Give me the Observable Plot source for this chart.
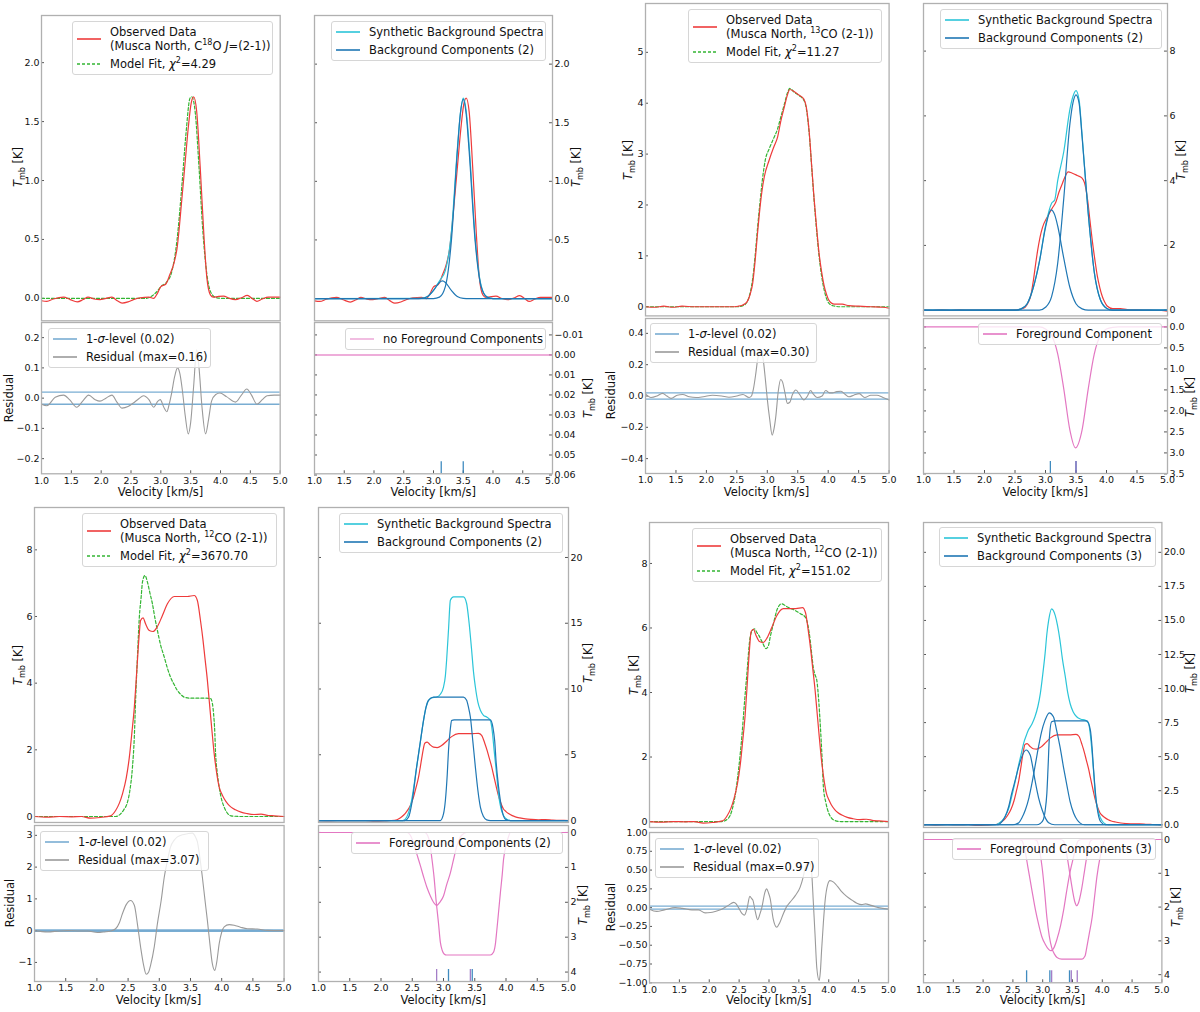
<!DOCTYPE html>
<html>
<head>
<meta charset="utf-8">
<script src="https://cdn.jsdelivr.net/npm/d3@7"></script>
<script src="https://cdn.jsdelivr.net/npm/@observablehq/plot@0.6"></script>
<style>
  body { margin: 0; background: #fff; font-family: "DejaVu Sans", sans-serif; }
  #fig { position: relative; width: 1200px; height: 1012px; overflow: hidden; }
  .lab { position: absolute; font-size: 11.5px; white-space: nowrap; color: #111; }
  .leg { position: absolute; background: rgba(255,255,255,0.8); border: 1px solid #d6d6d6; border-radius: 3px;
         font-size: 11.5px; line-height: 14px; padding: 3px 4px; box-sizing: border-box; color: #111; white-space: nowrap; }
  .row { display: flex; align-items: center; margin-bottom: 4px; }
  .row:last-child { margin-bottom: 0; }
  .row svg { flex: none; margin-right: 9px; }
  sub, sup { font-size: 70%; line-height: 0; }
</style>
</head>
<body>
<div id="fig"></div>
<script>
// ---- values ----
const vTicks = [1, 1.5, 2, 2.5, 3, 3.5, 4, 4.5, 5];

const chiSq = [4.29, 11.27, 3670.70, 151.02];
const residMax = [0.16, 0.30, 3.07, 0.97];
const sigmaLevel = 0.02;
const nBackground = [2, 2, 2, 3];
const nForeground = [0, 1, 2, 3];

// C18O (top left)
const obsC18O = [[1.0,-0.02],[1.09,-0.025],[1.2,-0.005],[1.37,0.01],[1.48,-0.01],[1.6,-0.03],[1.7,-0.01],[1.78,0.01],[1.88,-0.005],[1.98,-0.01],[2.08,0.0],[2.18,0.01],[2.27,-0.02],[2.35,-0.04],[2.45,-0.03],[2.54,-0.01],[2.65,0.005],[2.8,0.01],[2.88,0.0],[2.94,0.04],[3.0,0.1],[3.08,0.12],[3.15,0.2],[3.22,0.3],[3.27,0.42],[3.35,0.83],[3.41,1.17],[3.46,1.45],[3.51,1.66],[3.55,1.71],[3.6,1.59],[3.66,1.11],[3.72,0.55],[3.77,0.18],[3.83,0.03],[3.88,0.01],[3.95,0.015],[4.05,0.02],[4.15,0.0],[4.25,-0.01],[4.35,0.005],[4.45,0.025],[4.53,0.0],[4.61,-0.025],[4.7,-0.005],[4.8,0.01],[4.9,0.01],[5.0,0.01]];
const fitC18O = [[1,0],[2.75,0],[2.85,0.02],[2.92,0.05],[3.0,0.1],[3.1,0.14],[3.18,0.22],[3.27,0.49],[3.35,0.94],[3.42,1.39],[3.49,1.7],[3.52,1.71],[3.58,1.56],[3.64,1.11],[3.7,0.6],[3.77,0.21],[3.85,0.04],[3.94,0.005],[4.05,0],[5,0]];
const resC18O = [[1.0,-0.02],[1.09,-0.025],[1.23,0.003],[1.37,0.01],[1.47,-0.005],[1.59,-0.03],[1.69,-0.01],[1.79,0.01],[1.9,-0.005],[1.98,-0.01],[2.08,0.0],[2.18,0.01],[2.27,-0.015],[2.35,-0.033],[2.45,-0.028],[2.54,-0.016],[2.63,-0.002],[2.71,0.008],[2.8,-0.005],[2.88,-0.03],[2.95,-0.01],[2.99,-0.005],[3.05,-0.03],[3.1,-0.045],[3.14,-0.02],[3.18,0.016],[3.23,0.07],[3.28,0.1],[3.32,0.08],[3.36,0.027],[3.41,-0.06],[3.46,-0.118],[3.5,-0.08],[3.55,0.04],[3.6,0.16],[3.64,0.1],[3.69,-0.03],[3.75,-0.118],[3.8,-0.07],[3.85,-0.01],[3.92,0.012],[3.99,0.017],[4.1,0.005],[4.25,-0.013],[4.35,0.01],[4.44,0.03],[4.52,0.01],[4.61,-0.02],[4.7,-0.005],[4.78,0.008],[4.9,0.01],[5.0,0.01]];
const synthC18O = [[1,0],[2.8,0.002],[2.9,0.017],[3.0,0.07],[3.1,0.15],[3.2,0.24],[3.3,0.56],[3.4,1.27],[3.45,1.57],[3.5,1.71],[3.55,1.6],[3.6,1.3],[3.7,0.52],[3.8,0.11],[3.9,0.012],[4.0,0],[5,0]];
const bgC18O_1 = [[1,0],[2.7,0],[2.8,0.002],[2.9,0.017],[3.0,0.069],[3.1,0.137],[3.15,0.15],[3.2,0.137],[3.3,0.069],[3.4,0.017],[3.5,0.002],[3.6,0],[5,0]];
const bgC18O_2 = [[1,0],[3.0,0],[3.1,0.012],[3.2,0.104],[3.3,0.49],[3.4,1.25],[3.45,1.57],[3.5,1.7],[3.55,1.57],[3.6,1.25],[3.7,0.49],[3.8,0.104],[3.9,0.012],[4.0,0],[5,0]];
const bgCentresC18O = [3.13, 3.5];
const fgCentresC18O = [];

// 13CO (top right)
const obs13CO = [[1.0,0.0],[1.15,-0.01],[1.3,0.01],[1.45,-0.01],[1.6,0.01],[1.8,0.0],[2.0,0.0],[2.2,0.0],[2.4,0.0],[2.52,0.01],[2.59,0.03],[2.67,0.1],[2.72,0.25],[2.76,0.46],[2.8,0.9],[2.84,1.45],[2.87,1.83],[2.91,2.25],[2.95,2.55],[3.03,2.88],[3.11,3.15],[3.17,3.34],[3.22,3.64],[3.28,3.93],[3.33,4.16],[3.37,4.27],[3.44,4.23],[3.52,4.16],[3.6,4.08],[3.64,3.93],[3.69,3.41],[3.73,2.75],[3.77,2.1],[3.81,1.55],[3.85,1.05],[3.89,0.7],[3.93,0.43],[3.97,0.25],[4.01,0.13],[4.1,0.05],[4.23,0.05],[4.34,0.02],[4.5,0.01],[4.7,0.0],[4.9,-0.01],[5.0,-0.03]];
const fit13CO = [[1,0],[2.5,0],[2.6,0.02],[2.67,0.1],[2.72,0.28],[2.76,0.55],[2.8,1.0],[2.84,1.55],[2.88,2.05],[2.92,2.5],[2.97,2.9],[3.03,3.1],[3.1,3.3],[3.17,3.5],[3.22,3.72],[3.28,3.98],[3.33,4.2],[3.37,4.29],[3.44,4.22],[3.52,4.15],[3.6,4.06],[3.64,3.9],[3.69,3.38],[3.73,2.72],[3.77,2.07],[3.81,1.5],[3.85,1.0],[3.89,0.62],[3.93,0.35],[3.97,0.17],[4.01,0.07],[4.08,0.02],[4.2,0],[5,0]];
const res13CO = [[1.0,0.013],[1.09,-0.01],[1.19,0.0],[1.28,0.017],[1.35,0.0],[1.42,-0.015],[1.52,0.005],[1.61,0.01],[1.72,-0.005],[1.83,-0.01],[1.95,-0.005],[2.1,0.005],[2.25,0.0],[2.37,-0.008],[2.5,0.0],[2.6,0.01],[2.7,-0.01],[2.74,0.0],[2.77,0.04],[2.81,0.14],[2.84,0.23],[2.89,0.29],[2.93,0.24],[2.97,0.1],[3.0,-0.02],[3.04,-0.15],[3.08,-0.25],[3.11,-0.21],[3.14,-0.13],[3.18,0.03],[3.22,0.105],[3.25,0.09],[3.29,0.02],[3.33,-0.047],[3.37,-0.04],[3.41,0.006],[3.47,0.038],[3.53,0.01],[3.6,-0.025],[3.66,0.0],[3.71,0.035],[3.76,0.01],[3.82,-0.01],[3.9,0.0],[3.96,0.035],[4.02,0.02],[4.07,0.02],[4.14,0.028],[4.21,0.03],[4.28,0.01],[4.34,-0.005],[4.42,0.005],[4.51,0.015],[4.6,-0.01],[4.7,0.005],[4.8,0.005],[4.9,-0.01],[5.0,-0.025]];
const synth13CO = [[1,0],[2.5,0],[2.6,0.04],[2.7,0.2],[2.8,0.7],[2.9,1.5],[3.0,2.6],[3.1,3.3],[3.15,3.4],[3.2,4.0],[3.3,4.9],[3.4,6.2],[3.45,6.6],[3.5,6.78],[3.55,6.5],[3.6,5.4],[3.7,3.0],[3.8,1.17],[3.9,0.32],[4.0,0.06],[4.1,0],[5,0]];
const bg13CO_1 = [[1,0],[2.5,0],[2.6,0.04],[2.7,0.2],[2.8,0.7],[2.9,1.5],[3.0,2.55],[3.09,3.1],[3.15,2.95],[3.2,2.6],[3.3,1.6],[3.4,0.7],[3.5,0.2],[3.6,0.04],[3.7,0],[5,0]];
const bg13CO_2 = [[1,0],[2.9,0],[3.0,0.09],[3.1,0.42],[3.2,1.45],[3.3,3.46],[3.4,5.75],[3.45,6.4],[3.5,6.65],[3.55,6.4],[3.6,5.35],[3.7,3.0],[3.8,1.17],[3.9,0.32],[4.0,0.06],[4.1,0],[5,0]];
const fg13CO_1 = [[1,0],[2.9,0],[3.0,0.05],[3.1,0.2],[3.2,0.64],[3.3,1.48],[3.4,2.46],[3.49,2.88],[3.6,2.45],[3.7,1.48],[3.8,0.64],[3.9,0.2],[4.0,0.05],[4.1,0.01],[4.2,0],[5,0]];
const bgCentres13CO = [3.08, 3.5];
const fgCentres13CO = [3.5];

// 12CO observed spectrum (bottom row, both fits)
const obs12CO = [[1.0,0.0],[1.2,-0.02],[1.4,0.0],[1.6,-0.01],[1.75,0.0],[1.9,-0.05],[2.05,-0.03],[2.22,0.02],[2.3,0.18],[2.36,0.4],[2.41,0.68],[2.47,1.15],[2.52,1.78],[2.56,2.5],[2.6,3.28],[2.63,4.1],[2.66,4.98],[2.68,5.5],[2.7,5.88],[2.74,5.96],[2.78,5.78],[2.84,5.58],[2.9,5.55],[2.97,5.7],[3.05,6.03],[3.13,6.38],[3.24,6.6],[3.34,6.6],[3.45,6.6],[3.56,6.63],[3.61,6.48],[3.66,5.88],[3.7,5.3],[3.73,4.78],[3.77,4.1],[3.8,3.48],[3.84,2.65],[3.88,1.88],[3.92,1.3],[3.96,0.88],[4.0,0.68],[4.04,0.53],[4.1,0.37],[4.15,0.28],[4.22,0.2],[4.31,0.13],[4.4,0.09],[4.52,0.06],[4.63,0.07],[4.75,0.03],[4.84,0.02],[5.0,0.0]];

// 12CO, 2+2 components (bottom left)
const fit12CO_a = [[1,0],[2.3,0],[2.38,0.08],[2.43,0.2],[2.49,0.43],[2.53,0.8],[2.57,1.48],[2.6,2.4],[2.62,3.48],[2.65,4.8],[2.68,5.98],[2.71,6.6],[2.73,7.03],[2.77,7.23],[2.81,7.03],[2.85,6.7],[2.89,6.38],[2.93,5.95],[2.97,5.58],[3.02,5.15],[3.08,4.78],[3.13,4.45],[3.18,4.18],[3.24,3.95],[3.29,3.78],[3.35,3.65],[3.4,3.58],[3.5,3.55],[3.6,3.55],[3.72,3.55],[3.82,3.54],[3.85,3.4],[3.87,3.08],[3.89,2.5],[3.9,1.98],[3.93,1.3],[3.96,0.88],[4.0,0.5],[4.04,0.28],[4.1,0.08],[4.15,0.02],[4.3,0],[5,0]];
const res12CO_a = [[1.0,0.0],[1.21,-0.04],[1.4,-0.01],[1.53,0.0],[1.7,-0.01],[1.85,-0.01],[2.01,-0.06],[2.12,-0.04],[2.22,-0.01],[2.3,0.06],[2.36,0.25],[2.41,0.54],[2.47,0.82],[2.54,0.95],[2.6,0.8],[2.65,0.2],[2.7,-0.51],[2.75,-1.1],[2.79,-1.37],[2.83,-1.3],[2.86,-1.09],[2.92,-0.5],[2.97,0.22],[3.03,0.95],[3.08,1.69],[3.13,2.2],[3.18,2.63],[3.24,2.85],[3.29,2.95],[3.37,3.02],[3.45,3.05],[3.53,3.07],[3.58,2.95],[3.61,2.8],[3.65,2.3],[3.69,1.69],[3.73,1.0],[3.77,0.33],[3.81,-0.4],[3.85,-1.04],[3.89,-1.25],[3.92,-1.0],[3.96,-0.41],[4.0,-0.05],[4.04,0.12],[4.12,0.19],[4.2,0.17],[4.3,0.11],[4.41,0.06],[4.57,0.05],[4.73,0.01],[5.0,0.0]];
const synth12CO_a = [[1,0],[2.35,0],[2.41,0.25],[2.48,1.3],[2.57,4.06],[2.63,6.0],[2.68,7.6],[2.72,8.6],[2.76,9.14],[2.82,9.35],[2.89,9.39],[2.95,9.6],[3.0,10.15],[3.03,11.0],[3.05,12.2],[3.08,14.5],[3.11,16.75],[3.16,17.0],[3.32,17.0],[3.37,16.5],[3.41,15.0],[3.45,12.97],[3.48,11.3],[3.51,10.15],[3.55,9.0],[3.59,8.38],[3.64,8.0],[3.69,7.87],[3.75,7.6],[3.78,6.8],[3.81,5.33],[3.85,3.5],[3.88,2.03],[3.92,0.9],[3.96,0.38],[4.02,0.08],[4.07,0],[5,0]];
const bg12CO_a1 = [[1,0],[2.38,0],[2.44,0.25],[2.5,1.5],[2.57,4.06],[2.63,6.0],[2.68,7.6],[2.72,8.6],[2.76,9.14],[2.84,9.39],[3.32,9.39],[3.37,9.14],[3.4,8.6],[3.43,7.87],[3.47,6.0],[3.51,4.06],[3.55,2.3],[3.59,1.02],[3.64,0.3],[3.69,0.05],[3.75,0],[5,0]];
const bg12CO_a2 = [[1,0],[2.95,0],[3.0,0.5],[3.03,1.52],[3.06,3.5],[3.08,5.33],[3.11,7.0],[3.13,7.6],[3.17,7.66],[3.75,7.66],[3.79,7.1],[3.82,6.0],[3.84,4.57],[3.88,2.6],[3.91,1.52],[3.95,0.5],[3.99,0.1],[4.07,0],[5,0]];
const fg12CO_a1 = [[1,0],[2.42,0],[2.47,0.08],[2.52,0.3],[2.57,0.6],[2.63,0.95],[2.68,1.26],[2.74,1.6],[2.79,1.82],[2.84,2.0],[2.89,2.09],[2.94,2.0],[3.0,1.82],[3.05,1.5],[3.11,1.16],[3.16,0.78],[3.21,0.41],[3.25,0.2],[3.29,0.08],[3.37,0],[5,0]];
const fg12CO_a2 = [[1,0],[2.7,0],[2.75,0.1],[2.78,0.3],[2.81,0.69],[2.85,1.3],[2.88,1.92],[2.92,2.6],[2.95,3.15],[2.98,3.38],[3.01,3.48],[3.05,3.51],[3.75,3.51],[3.8,3.43],[3.83,3.2],[3.85,2.86],[3.88,2.3],[3.91,1.73],[3.94,1.2],[3.96,0.78],[4.01,0.31],[4.04,0.12],[4.07,0],[5,0]];
const bgCentres12CO_a = [3.08, 3.46];
const fgCentres12CO_a = [2.89, 3.43];

// 12CO, 3+3 components (bottom right)
const fit12CO_b = [[1,0],[2.21,0],[2.32,0.1],[2.38,0.35],[2.43,0.77],[2.49,1.6],[2.55,2.73],[2.59,3.7],[2.63,4.58],[2.68,5.66],[2.72,5.92],[2.76,5.97],[2.8,5.85],[2.83,5.77],[2.89,5.55],[2.95,5.36],[2.99,5.45],[3.02,5.72],[3.07,6.1],[3.13,6.54],[3.21,6.75],[3.3,6.66],[3.37,6.6],[3.44,6.54],[3.52,6.45],[3.61,6.33],[3.65,6.1],[3.69,5.61],[3.72,5.1],[3.74,4.79],[3.77,4.55],[3.8,4.38],[3.83,3.8],[3.86,2.94],[3.89,1.9],[3.91,1.08],[3.95,0.6],[4.0,0.26],[4.04,0.12],[4.08,0.05],[4.2,0],[5,0]];
const res12CO_b = [[1.0,-0.02],[1.12,-0.05],[1.25,-0.03],[1.43,0.0],[1.55,-0.01],[1.71,-0.03],[1.82,-0.03],[1.93,-0.07],[2.02,-0.065],[2.1,-0.05],[2.21,-0.02],[2.32,0.03],[2.41,0.07],[2.45,0.05],[2.49,0.0],[2.55,-0.08],[2.59,-0.1],[2.63,-0.02],[2.68,0.15],[2.71,0.12],[2.73,0.1],[2.77,-0.05],[2.81,-0.16],[2.85,-0.08],[2.88,0.0],[2.93,0.2],[2.96,0.25],[2.99,0.2],[3.02,0.12],[3.07,-0.15],[3.13,-0.26],[3.18,-0.2],[3.24,-0.08],[3.3,0.02],[3.35,0.07],[3.44,0.16],[3.52,0.27],[3.57,0.4],[3.61,0.54],[3.66,0.6],[3.69,0.59],[3.72,0.4],[3.74,0.1],[3.77,-0.35],[3.8,-0.8],[3.84,-0.97],[3.86,-0.85],[3.88,-0.57],[3.91,-0.2],[3.94,0.1],[3.98,0.3],[4.02,0.36],[4.08,0.34],[4.15,0.28],[4.22,0.21],[4.3,0.15],[4.39,0.1],[4.47,0.06],[4.55,0.04],[4.62,0.05],[4.67,0.04],[4.75,0.02],[4.83,0.0],[5.0,-0.02]];
const synth12CO_b = [[1,0],[2.2,0],[2.26,0.1],[2.32,0.3],[2.37,0.61],[2.43,1.2],[2.48,2.07],[2.54,3.2],[2.59,4.27],[2.64,5.2],[2.68,5.98],[2.72,6.5],[2.76,6.95],[2.82,7.4],[2.87,7.93],[2.92,8.7],[2.96,9.63],[3.0,11.0],[3.04,12.56],[3.07,14.0],[3.1,15.0],[3.15,15.85],[3.21,15.37],[3.25,14.6],[3.29,13.54],[3.33,12.2],[3.38,10.85],[3.42,9.7],[3.46,8.9],[3.51,8.3],[3.57,7.93],[3.64,7.75],[3.71,7.68],[3.77,7.44],[3.8,6.6],[3.83,5.24],[3.86,3.6],[3.88,2.32],[3.92,1.2],[3.97,0.49],[4.03,0.12],[4.1,0],[5,0]];
const bg12CO_b1 = [[1,0],[2.25,0],[2.31,0.2],[2.37,0.6],[2.43,1.34],[2.48,2.3],[2.54,3.29],[2.6,4.3],[2.65,5.0],[2.72,5.49],[2.79,5.12],[2.83,4.3],[2.87,3.29],[2.93,2.0],[2.99,1.1],[3.05,0.45],[3.1,0.15],[3.2,0],[5,0]];
const bg12CO_b2 = [[1,0],[2.5,0],[2.59,0.12],[2.65,0.5],[2.71,1.1],[2.77,2.0],[2.82,3.05],[2.88,4.5],[2.93,5.73],[2.98,6.8],[3.04,7.68],[3.11,8.22],[3.18,7.93],[3.23,7.0],[3.29,5.73],[3.35,4.2],[3.41,2.8],[3.46,1.7],[3.52,0.85],[3.58,0.35],[3.63,0.12],[3.7,0],[5,0]];
const bg12CO_b3 = [[1,0],[2.9,0],[2.96,0.1],[3.01,0.37],[3.04,1.0],[3.07,2.32],[3.09,4.2],[3.11,6.22],[3.15,7.56],[3.21,7.63],[3.74,7.63],[3.8,6.95],[3.83,5.6],[3.85,4.27],[3.88,2.6],[3.91,1.34],[3.94,0.6],[3.97,0.24],[4.05,0],[5,0]];
const fg12CO_b1 = [[1,0],[3.3,0],[3.35,0.05],[3.4,0.4],[3.45,0.95],[3.5,1.5],[3.54,1.85],[3.57,1.96],[3.6,1.88],[3.65,1.5],[3.7,0.95],[3.75,0.4],[3.8,0.05],[3.85,0],[5,0]];
const fg12CO_b2 = [[1,0],[2.6,0],[2.65,0.03],[2.7,0.3],[2.75,0.8],[2.82,1.51],[2.88,2.1],[2.93,2.5],[2.99,2.9],[3.04,3.09],[3.1,3.25],[3.14,3.29],[3.19,3.2],[3.24,2.95],[3.3,2.55],[3.35,2.1],[3.4,1.55],[3.46,0.95],[3.52,0.5],[3.56,0.2],[3.6,0.03],[3.65,0],[5,0]];
const fg12CO_b3 = [[1,0],[2.85,0],[2.9,0.03],[2.95,0.35],[2.99,0.82],[3.03,1.5],[3.07,2.3],[3.11,2.85],[3.15,3.19],[3.2,3.4],[3.24,3.49],[3.32,3.54],[3.66,3.54],[3.71,3.45],[3.74,3.19],[3.78,2.8],[3.83,2.3],[3.87,1.7],[3.91,1.1],[3.96,0.55],[4.0,0.23],[4.05,0],[5,0]];
const bgCentres12CO_b = [2.73, 3.12, 3.45];
const fgCentres12CO_b = [3.15, 3.48, 3.58];

// axis tick values
const tC18O = [0, 0.5, 1, 1.5, 2];
const tC18Ores = [-0.2, -0.1, 0, 0.1, 0.2];
const tC18Ofg = [-0.01, 0, 0.01, 0.02, 0.03, 0.04, 0.05, 0.06];
const t13CO = [0, 1, 2, 3, 4, 5];
const t13COres = [-0.4, -0.2, 0, 0.2, 0.4];
const t13COsyn = [0, 2, 4, 6, 8];
const t13COfg = [0, 0.5, 1, 1.5, 2, 2.5, 3, 3.5];
const t12CO = [0, 2, 4, 6, 8];
const t12COres_a = [-1, 0, 1, 2, 3];
const t12COsyn_a = [0, 5, 10, 15, 20];
const t12COfg = [0, 1, 2, 3, 4];
const t12COres_b = [-1, -0.75, -0.5, -0.25, 0, 0.25, 0.5, 0.75, 1];
const t12COsyn_b = [0, 2.5, 5, 7.5, 10, 12.5, 15, 17.5, 20];

// ---- styling ----
const RED = "#ee3b3b", GREEN = "#33b533", CYAN = "#2bc5d8", BLUE = "#1f77b4",
      PINK = "#e377c2", GRAY = "#9a9a9a", PURPLE = "#9467bd", FRAME = "#b0b0b0";

const fig = document.getElementById("fig");

function curve(data, stroke, extra = {}) {
    return Plot.line(data, { x: d => d[0], y: d => d[1], stroke, strokeWidth: 1.2, curve: "monotone-x", ...extra });
}

function panel(o) {
    const mL = 45, mR = 45, mT = 3, mB = o.xAxis ? 26 : 3;
    const fw = o.x1 - o.x0, fh = o.y1 - o.y0;
    let marks = [];
    marks.push(Plot.axisY(o.yTicks, { anchor: o.right ? "right" : "left", tickSize: 0, tickPadding: 2, tickFormat: d3.format(o.yFmt), label: null }));
    // small inward ticks like matplotlib's
    marks.push(Plot.tickY(o.yTicks, { y: d => d, stroke: "#555", insetRight: fw - 3 }));
    if (o.right) marks.push(Plot.tickY(o.yTicks, { y: d => d, stroke: "#555", insetLeft: fw - 3 }));
    if (o.xAxis) {
        marks.push(Plot.axisX(vTicks, { anchor: "bottom", tickSize: 0, tickPadding: 3, tickFormat: d3.format(".1f"), label: null }));
        marks.push(Plot.tickX(vTicks, { x: d => d, stroke: "#555", insetTop: fh - 3 }));
    }
    marks = marks.concat(o.marks);
    marks.push(Plot.frame({ stroke: FRAME, strokeWidth: 1.3 }));

    const svg = Plot.plot({
        width: fw + mL + mR, height: fh + mT + mB,
        marginLeft: mL, marginRight: mR, marginTop: mT, marginBottom: mB,
        x: { domain: [1, 5], axis: null },
        y: { domain: o.yDomain, reverse: !!o.reverse, axis: null },
        style: { fontFamily: "DejaVu Sans", fontSize: "9.5px", color: "#111", background: "transparent", overflow: "visible", maxWidth: "none" },
        marks
    });
    svg.style.position = "absolute";
    svg.style.left = (o.x0 - mL) + "px";
    svg.style.top = (o.y0 - mT) + "px";
    fig.append(svg);
    // centre-marker ticks at the bottom of the foreground panels need the frame height
    return fh;
}

function label(html, cx, cy, vertical) {
    const d = document.createElement("div");
    d.className = "lab";
    d.innerHTML = html;
    d.style.left = cx + "px";
    d.style.top = cy + "px";
    d.style.transform = vertical ? "translate(-50%,-50%) rotate(-90deg)" : "translate(-50%,-50%)";
    fig.append(d);
}

function legend(left, top, width, entries) {
    const d = document.createElement("div");
    d.className = "leg";
    d.style.left = left + "px";
    d.style.top = top + "px";
    d.style.width = width + "px";
    for (const e of entries) {
        const dash = e.dash ? 'stroke-dasharray="3,2"' : "";
        d.innerHTML += `<div class="row"><svg width="24" height="6"><line x1="0" x2="24" y1="3" y2="3" stroke="${e.color}" stroke-opacity="${e.opacity || 1}" stroke-width="1.6" ${dash}/></svg><span>${e.html}</span></div>`;
    }
    fig.append(d);
}

const TMB = "<i>T</i><sub>mb</sub> [K]";
const VEL = "Velocity [km/s]";
const SIG = `1-<i>σ</i>-level (${sigmaLevel.toFixed(2)})`;
const chi = i => `Model Fit, <i>χ</i><sup>2</sup>=${chiSq[i].toFixed(2)}`;
const sigmaRules = () => Plot.ruleY([sigmaLevel, -sigmaLevel], { stroke: BLUE, strokeOpacity: 0.6, strokeWidth: 1.4 });
const centreTicks = (vals, color, fh) => Plot.tickX(vals, { x: d => d, stroke: color, strokeWidth: 1.3, strokeOpacity: 0.85, insetTop: fh - 12 });
const fgCurves = list => list.map(c => curve(c, PINK));
const bgCurves = list => list.map(c => curve(c, BLUE));

// ================= top left: C18O =================
panel({ x0: 41.3, x1: 280, y0: 14.7, y1: 320, yDomain: [-0.19, 2.40], yTicks: tC18O, yFmt: ".1f",
    marks: [curve(fitC18O, GREEN, { strokeDasharray: "3,2" }), curve(obsC18O, RED)] });
panel({ x0: 41.3, x1: 280, y0: 322, y1: 473.3, yDomain: [-0.25, 0.25], yTicks: tC18Ores, yFmt: ".1f", xAxis: true,
    marks: [sigmaRules(), curve(resC18O, GRAY, { strokeWidth: 1.1 })] });
panel({ x0: 314.3, x1: 552.3, y0: 14.7, y1: 320, yDomain: [-0.19, 2.415], yTicks: tC18O, yFmt: ".1f", right: true,
    marks: [curve(obsC18O, RED), curve(synthC18O, CYAN), ...bgCurves([bgC18O_1, bgC18O_2])] });
panel({ x0: 314.3, x1: 552.3, y0: 322, y1: 473.3, yDomain: [-0.0162, 0.0594], reverse: true, yTicks: tC18Ofg, yFmt: ".2f", right: true, xAxis: true,
    marks: [Plot.ruleY([0], { stroke: PINK, strokeOpacity: 0.6, strokeWidth: 2 }),
            centreTicks(bgCentresC18O, BLUE, 151.3), centreTicks(fgCentresC18O, PURPLE, 151.3)] });

// ================= top right: 13CO =================
panel({ x0: 644.7, x1: 888.3, y0: 3.3, y1: 315.7, yDomain: [-0.18, 5.96], yTicks: t13CO, yFmt: "d",
    marks: [curve(fit13CO, GREEN, { strokeDasharray: "3,2" }), curve(obs13CO, RED)] });
panel({ x0: 644.7, x1: 888.3, y0: 318.3, y1: 473.3, yDomain: [-0.495, 0.495], yTicks: t13COres, yFmt: ".1f", xAxis: true,
    marks: [sigmaRules(), curve(res13CO, GRAY, { strokeWidth: 1.1 })] });
panel({ x0: 923.3, x1: 1167.3, y0: 3.3, y1: 315.7, yDomain: [-0.176, 9.47], yTicks: t13COsyn, yFmt: "d", right: true,
    marks: [curve(obs13CO, RED), curve(synth13CO, CYAN), ...bgCurves([bg13CO_1, bg13CO_2])] });
panel({ x0: 923.3, x1: 1167.3, y0: 318.3, y1: 473.3, yDomain: [-0.2, 3.49], reverse: true, yTicks: t13COfg, yFmt: ".1f", right: true, xAxis: true,
    marks: [...fgCurves([fg13CO_1]), centreTicks(bgCentres13CO, BLUE, 155), centreTicks(fgCentres13CO, PURPLE, 155)] });

// ================= bottom left: 12CO, 2 + 2 components =================
panel({ x0: 33.7, x1: 283.3, y0: 507.3, y1: 822.3, yDomain: [-0.18, 9.27], yTicks: t12CO, yFmt: "d",
    marks: [curve(fit12CO_a, GREEN, { strokeDasharray: "3,2" }), curve(obs12CO, RED)] });
panel({ x0: 33.7, x1: 283.3, y0: 825, y1: 981, yDomain: [-1.6, 3.31], yTicks: t12COres_a, yFmt: "d", xAxis: true,
    marks: [sigmaRules(), curve(res12CO_a, GRAY, { strokeWidth: 1.1 })] });
panel({ x0: 318.3, x1: 568.3, y0: 507.3, y1: 822.3, yDomain: [-0.15, 23.8], yTicks: t12COsyn_a, yFmt: "d", right: true,
    marks: [curve(obs12CO, RED), curve(synth12CO_a, CYAN), ...bgCurves([bg12CO_a1, bg12CO_a2])] });
panel({ x0: 318.3, x1: 568.3, y0: 825, y1: 981, yDomain: [-0.2, 4.27], reverse: true, yTicks: t12COfg, yFmt: "d", right: true, xAxis: true,
    marks: [...fgCurves([fg12CO_a1, fg12CO_a2]), centreTicks(bgCentres12CO_a, BLUE, 156), centreTicks(fgCentres12CO_a, PURPLE, 156)] });

// ================= bottom right: 12CO, 3 + 3 components =================
panel({ x0: 649.3, x1: 888.3, y0: 521.7, y1: 826.7, yDomain: [-0.185, 9.27], yTicks: t12CO, yFmt: "d",
    marks: [curve(fit12CO_b, GREEN, { strokeDasharray: "3,2" }), curve(obs12CO, RED)] });
panel({ x0: 649.3, x1: 888.3, y0: 831.7, y1: 982, yDomain: [-1, 1], yTicks: t12COres_b, yFmt: ".2f", xAxis: true,
    marks: [sigmaRules(), curve(res12CO_b, GRAY, { strokeWidth: 1.1 })] });
panel({ x0: 923.3, x1: 1161.7, y0: 521.7, y1: 826.7, yDomain: [-0.2, 22.19], yTicks: t12COsyn_b, yFmt: ".1f", right: true,
    marks: [curve(obs12CO, RED), curve(synth12CO_b, CYAN), ...bgCurves([bg12CO_b1, bg12CO_b2, bg12CO_b3])] });
panel({ x0: 923.3, x1: 1161.7, y0: 831.7, y1: 982, yDomain: [-0.207, 4.24], reverse: true, yTicks: t12COfg, yFmt: "d", right: true, xAxis: true,
    marks: [...fgCurves([fg12CO_b1, fg12CO_b2, fg12CO_b3]), centreTicks(bgCentres12CO_b, BLUE, 150.3), centreTicks(fgCentres12CO_b, PURPLE, 150.3)] });

// ---- axis titles ----
label(TMB, 17.5, 167, true);   label("Residual", 9, 398, true);
label(TMB, 576, 167, true);    label(TMB, 588, 398, true);
label(TMB, 628, 160, true);    label("Residual", 611, 395, true);
label(TMB, 1181, 160, true);   label(TMB, 1190, 397, true);
label(TMB, 18, 665, true);     label("Residual", 10, 903, true);
label(TMB, 588, 663, true);    label(TMB, 583, 905, true);
label(TMB, 634, 675, true);    label("Residual", 611, 907, true);
label(TMB, 1190, 673, true);   label(TMB, 1176, 907, true);
label(VEL, 160.6, 492); label(VEL, 433.3, 492); label(VEL, 766.5, 492); label(VEL, 1045.3, 492);
label(VEL, 158.5, 1000); label(VEL, 443.3, 1000); label(VEL, 768.8, 1000); label(VEL, 1042.5, 1000);

// ---- legends ----
const fgText = n => n === 0 ? "no Foreground Components" : n === 1 ? "Foreground Component" : `Foreground Components (${n})`;
const bgEntries = i => [{ color: CYAN, html: "Synthetic Background Spectra" }, { color: BLUE, html: `Background Components (${nBackground[i]})` }];
const resEntries = i => [{ color: BLUE, opacity: 0.6, html: SIG }, { color: GRAY, html: `Residual (max=${residMax[i].toFixed(2)})` }];

legend(72, 21, 201, [{ color: RED, html: "Observed Data<br>(Musca North, C<sup>18</sup>O <i>J</i>=(2-1))" }, { color: GREEN, dash: true, html: chi(0) }]);
legend(48, 328, 163, resEntries(0));
legend(331, 21, 215, bgEntries(0));
legend(345, 328, 201, [{ color: PINK, opacity: 0.6, html: fgText(nForeground[0]) }]);

legend(688, 9, 194, [{ color: RED, html: "Observed Data<br>(Musca North, <sup>13</sup>CO (2-1))" }, { color: GREEN, dash: true, html: chi(1) }]);
legend(650, 323, 167, resEntries(1));
legend(940, 9, 222, bgEntries(1));
legend(978, 323, 184, [{ color: PINK, html: fgText(nForeground[1]) }]);

legend(82, 513, 195, [{ color: RED, html: "Observed Data<br>(Musca North, <sup>12</sup>CO (2-1))" }, { color: GREEN, dash: true, html: chi(2) }]);
legend(40, 831, 169, resEntries(2));
legend(339, 513, 224, bgEntries(2));
legend(351, 832, 212, [{ color: PINK, html: fgText(nForeground[2]) }]);

legend(692, 528, 190, [{ color: RED, html: "Observed Data<br>(Musca North, <sup>12</sup>CO (2-1))" }, { color: GREEN, dash: true, html: chi(3) }]);
legend(655, 838, 164, resEntries(3));
legend(939, 527, 217, bgEntries(3));
legend(952, 838, 204, [{ color: PINK, html: fgText(nForeground[3]) }]);
</script>
</body>
</html>
